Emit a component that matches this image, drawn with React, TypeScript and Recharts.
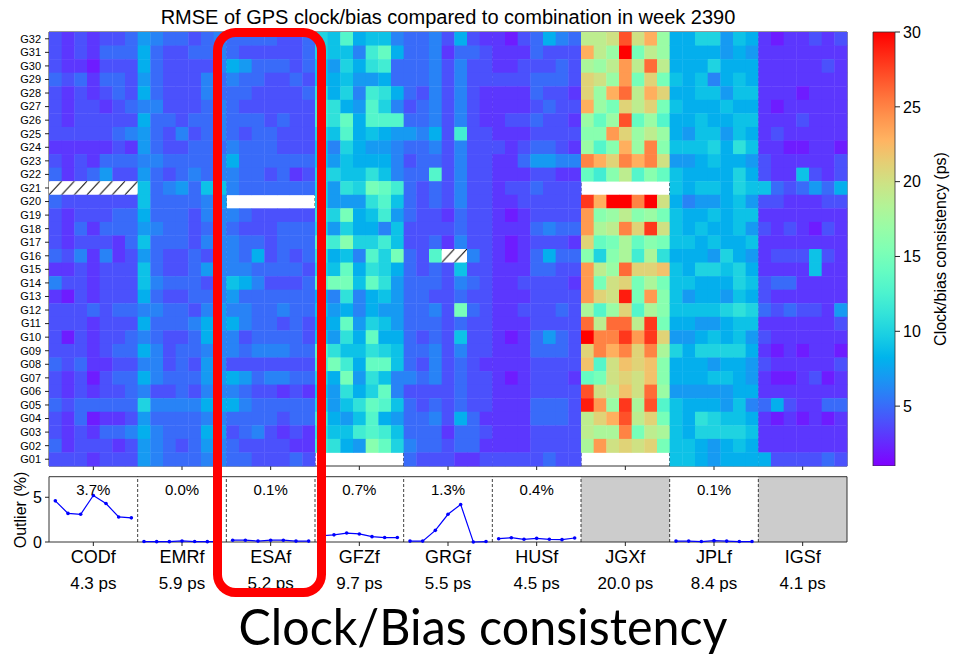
import React from 'react';
import {
    ScatterChart,
    Scatter,
    BarChart,
    Bar,
    XAxis,
    YAxis,
    ReferenceLine,
    ReferenceArea,
    ReferenceDot
} from 'recharts';

// tick labels
const SATELLITES = [
    'G01', 'G02', 'G03', 'G04', 'G05', 'G06', 'G07', 'G08', 'G09', 'G10', 'G11',
    'G12', 'G13', 'G14', 'G15', 'G16', 'G17', 'G18', 'G19', 'G20', 'G21', 'G22',
    'G23', 'G24', 'G25', 'G26', 'G27', 'G28', 'G29', 'G30', 'G31', 'G32'
];
const CENTERS = ['CODf', 'EMRf', 'ESAf', 'GFZf', 'GRGf', 'HUSf', 'JGXf', 'JPLf', 'IGSf'];
const MEAN_RMS = ['4.3 ps', '5.9 ps', '5.2 ps', '9.7 ps', '5.5 ps', '4.5 ps', '20.0 ps', '8.4 ps', '4.1 ps'];
const OUTLIER_LABELS = ['3.7%', '0.0%', '0.1%', '0.7%', '1.3%', '0.4%', '', '0.1%', ''];
const COLORBAR_TICKS = [5, 10, 15, 20, 25, 30];
const COLORBAR_RANGE = [1, 30];

// daily RMS (ps), rows G32 (top) .. G01 (bottom), 7 days per row.
// '1'-'9' = 1..9 ps, 'a'..'u' = 10..30 ps, '-' = no data, '/' = excluded
const CODF_RMS = [
    '4343445', '4343555', '4332444', '5453554', '4343454', '4344345', '4344444', '4444456',
    '3333343', '4343555', '5345744', '///////', '5444444', '4344455', '4353555', '4344435',
    '5463634', '3343444', '6443444', '3243444', '4445455', '4443444', '4243445', '4443455',
    '5453344', '4342455', '4343445', '5455555', '4352334', '4343556', '5344434', '4443444'
];
const EMRF_RMS = [
    '7655456', '8544556', '8544446', '7544465', '8544465', '6644456', '8554556', '7546456',
    '7544555', '6655556', '7545656', '9567599', '9555567', '8555466', '7655456', '9555466',
    '7544546', '9544576', '9655546', '8544556', '6655467', '8555687', '6544586', '8645566',
    '6645476', '8655577', '6445466', 'a666688', '7555566', '8655587', '7654576', '7655566'
];
const ESAF_RMS = [
    '5555445', '5444445', '8755545', '6554454', '5544445', '5444444', '5554544', '5455444',
    '6555444', '8555555', '6554534', '6555555', '-------', '6544444', '5444555', '6554555',
    '6584545', '6655554', '9864445', '7555555', '6655655', '8655454', '6455554', '6566655',
    '4444444', '8756655', '6544343', '8655555', '5555455', '4564343', '5444433', '5544454'
];
const GFZF_RMS = [
    'a9d8996', 'a996ce8', '97a8bc5', '9897785', 'b8a6cb8', 'cb87da6', 'cbe8ddd', 'a9d8987',
    '96a8776', '9798886', 'aa99b96', 'a7bafec', 'a777bd9', 'baf89c7', 'a7a8869', 'dcgaac9',
    'b896daf', 'a9e8ba8', 'dff9eb7', '86b6897', '9786877', '88e7a97', '97b8e88', 'db99ba9',
    'cfc8ee9', 'a8f7b96', '97b8ae6', 'a79bed9', 'c879d87', 'b99cdc9', 'cb87gea', '-------'
];
const GRGF_RMS = [
    '5564843', '5563554', '5564644', '5564644', '5464643', '4564643', '5564643', '7684c44',
    '5564644', '4554644', '55d4644', '5454644', '5454644', '5443544', '4444544', '4453644',
    '54d//64', '5454944', '5554654', '5544544', '5564f54', '5554544', '5454944', '5564644',
    '5464543', '6564544', '4444544', '5454544', '5564853', '5553554', '6554553', '5444334'
];
const HUSF_RMS = [
    '3245865', '3335444', '3344454', '4445554', '3335443', '3334544', '3445443', '3334444',
    '4345543', '3357766', '3334433', '3445444', '3344444', '3234444', '3335655', '3234443',
    '3235855', '3335544', '3344443', '3334444', '3344454', '3334444', '3235754', '3335554',
    '3334444', '3234443', '3334444', '3335554', '3335554', '3334444', '3334444', '4444544'
];
const JGXF_RMS = [
    'jjkrknh', 'njhufjh', 'ihjojqj', 'lkhoflf', 'lhnqjnl', 'nhfljlf', 'hehrehd', 'ggolhjh',
    'hdgnhpg', 'pnlpnpk', 'ecgjdge', '-------', 'snuupuk', 'oghjghf', 'oijplsk', 'lefiegf',
    'gagicib', 'ojhqllm', 'ofklfif', 'olktfog', 'idhldig', 'qjqqjsf', 'uppsosl', 'lpnplpi',
    'mdkmlmg', 'efklkmg', 'rkjmkqh', 'tohsird', 'jlnrjlf', 'jiipfji', 'ioklklf', '-------'
];
const JPLF_RMS = [
    '88aa798', '8888787', '888a888', '9896898', '8899799', '9888988', '8898899', '8799798',
    '999a8b9', '7789887', '98888a8', '98998a9', '8677897', '9889899', '9898897', '9989889',
    '8887a87', '98aa9a8', '99888a9', '9788798', '9999aba', '8877899', '7789897', 'a8aaaa8',
    '8887887', '8889987', '7777788', '9888796', '98ba998', '98aaaa9', '9987898', '9987888'
];
const IGSF_RMS = [
    '3233434', '3333333', '3333343', '3333333', '3332333', '3233333', '3334333', '3433333',
    '3322332', '4333334', '4339434', '9545758', '4433344', '3333333', '4343243', '3333333',
    '3444943', '3333933', '4553333', '4333333', '5454437', '3333334', '4333333', '3232332',
    '4333334', '3223423', '3333333', '5843355', '3232323', '3333333', '3333333', '8444454'
];

// daily outlier percentage per center (null = not evaluated)
const CODF_OUT = [4.6, 3.2, 3.1, 5.2, 4.3, 2.8, 2.7];
const EMRF_OUT = [0.05, 0.04, 0.04, 0.12, 0.05, 0.04, 0.04];
const ESAF_OUT = [0.2, 0.2, 0.1, 0.2, 0.2, 0.1, 0.1];
const GFZF_OUT = [0.7, 0.8, 1.0, 0.9, 0.6, 0.5, 0.5];
const GRGF_OUT = [0.1, 0.1, 1.3, 3.1, 4.2, 0.0, 0.05];
const HUSF_OUT = [0.37, 0.48, 0.3, 0.41, 0.3, 0.26, 0.45];
const JGXF_OUT = null;
const JPLF_OUT = [0.1, 0.1, 0.05, 0.15, 0.1, 0.05, 0.05];
const IGSF_OUT = null;

const RMS_GROUPS = [CODF_RMS, EMRF_RMS, ESAF_RMS, GFZF_RMS, GRGF_RMS, HUSF_RMS, JGXF_RMS, JPLF_RMS, IGSF_RMS];
const OUT_GROUPS = [CODF_OUT, EMRF_OUT, ESAF_OUT, GFZF_OUT, GRGF_OUT, HUSF_OUT, JGXF_OUT, JPLF_OUT, IGSF_OUT];

const DAYS = 7;
const NCOL = CENTERS.length * DAYS;
const NROW = SATELLITES.length;

// plot geometry
const PLOT_LEFT = 49;
const PLOT_RIGHT = 847;
const HEAT_TOP = 32;
const HEAT_BOTTOM = 466;
const CELL_W = (PLOT_RIGHT - PLOT_LEFT) / NCOL;
const CELL_H = (HEAT_BOTTOM - HEAT_TOP) / NROW;
const FONT = "'Liberation Sans', Arial, sans-serif";

// matplotlib 'rainbow'
const rainbow = (v: number) => {
    const t = Math.min(1, Math.max(0, (v - COLORBAR_RANGE[0]) / (COLORBAR_RANGE[1] - COLORBAR_RANGE[0])));
    const clip = (c: number) => Math.round(255 * Math.min(1, Math.max(0, c)));
    const r = clip(Math.abs(2 * t - 0.5));
    const g = clip(Math.sin(Math.PI * t));
    const b = clip(Math.cos((Math.PI * t) / 2));
    return `rgb(${r},${g},${b})`;
};

const decode = (c: string) => (c >= '1' && c <= '9' ? Number(c) : c.charCodeAt(0) - 87);

const cells: Array<{ x: number; y: number; v: number; hatch: boolean }> = [];
RMS_GROUPS.forEach((rows, g) => {
    rows.forEach((row, r) => {
        row.split('').forEach((ch, d) => {
            if (ch === '-') return;
            cells.push({
                x: g * DAYS + d + 0.5,
                y: NROW - r - 0.5,
                v: ch === '/' ? 0 : decode(ch),
                hatch: ch === '/'
            });
        });
    });
});

const outlierSeries = OUT_GROUPS.map((vals, g) =>
    vals ? vals.map((y, d) => ({ x: g * DAYS + d + 0.5, y })) : null
);

const GROUP_CENTERS = CENTERS.map((_, g) => g * DAYS + DAYS / 2);
const GROUP_EDGES = CENTERS.slice(1).map((_, g) => (g + 1) * DAYS);
const SAT_TICKS = SATELLITES.map((_, i) => i + 0.5);

const HeatCell = (p: any) => {
    const { cx, cy, payload } = p;
    return (
        <rect
            x={cx - CELL_W / 2}
            y={cy - CELL_H / 2}
            width={CELL_W + 0.4}
            height={CELL_H + 0.4}
            fill={payload.hatch ? 'url(#hatchFill)' : rainbow(payload.v)}
        />
    );
};

const Dot = (p: any) => <circle cx={p.cx} cy={p.cy} r={1.8} fill="#0000ff" />;

const CenterTick = (p: any) => {
    const i = Math.round((p.payload.value - DAYS / 2) / DAYS);
    return (
        <g>
            <text x={p.x} y={p.y + 15} textAnchor="middle" fontSize={18} fill="#000" fontFamily={FONT}>
                {CENTERS[i]}
            </text>
            <text x={p.x} y={p.y + 41} textAnchor="middle" fontSize={17} fill="#000" fontFamily={FONT}>
                {MEAN_RMS[i]}
            </text>
        </g>
    );
};

const gradientStops = Array.from({ length: 21 }, (_, i) => i / 20);

const App: React.FC = () => {
    return (
        <div style={{ position: 'absolute', left: 0, top: 0, width: 954, height: 656, background: '#fff', fontFamily: FONT, overflow: 'hidden' }}>
            <svg width={0} height={0} style={{ position: 'absolute' }}>
                <defs>
                    <pattern id="hatchFill" patternUnits="userSpaceOnUse" x={PLOT_LEFT} y={HEAT_TOP} width={CELL_W} height={CELL_H}>
                        <rect width={CELL_W} height={CELL_H} fill="#fff" />
                        <line x1={0} y1={CELL_H} x2={CELL_W} y2={0} stroke="#000" strokeWidth={1} />
                    </pattern>
                    <linearGradient id="cbarGrad" x1="0" y1="1" x2="0" y2="0">
                        {gradientStops.map((t) => (
                            <stop key={t} offset={t} stopColor={rainbow(COLORBAR_RANGE[0] + t * (COLORBAR_RANGE[1] - COLORBAR_RANGE[0]))} />
                        ))}
                    </linearGradient>
                </defs>
            </svg>

            {/* heatmap */}
            <div style={{ position: 'absolute', left: 0, top: 0 }}>
                <ScatterChart width={860} height={476} margin={{ top: HEAT_TOP, right: 13, bottom: 0, left: 0 }}>
                    <XAxis
                        type="number"
                        dataKey="x"
                        domain={[0, NCOL]}
                        ticks={GROUP_CENTERS}
                        tickFormatter={() => ''}
                        height={10}
                        tickSize={4}
                        axisLine={false}
                        stroke="#222"
                    />
                    <YAxis
                        type="number"
                        dataKey="y"
                        domain={[0, NROW]}
                        ticks={SAT_TICKS}
                        interval={0}
                        tickFormatter={(v: number) => SATELLITES[Math.floor(v)]}
                        width={PLOT_LEFT}
                        tickSize={4}
                        tickMargin={4}
                        tick={{ fontSize: 11, fill: '#000' }}
                        axisLine={false}
                        stroke="#222"
                    />
                    <Scatter data={cells} shape={HeatCell} isAnimationActive={false} />
                    {GROUP_EDGES.map((x) => (
                        <ReferenceLine key={x} x={x} stroke="#111" strokeWidth={0.8} strokeDasharray="3 2" />
                    ))}
                    <ReferenceArea x1={0} x2={NCOL} y1={0} y2={NROW} fill="none" stroke="#333" strokeWidth={1} />
                </ScatterChart>
            </div>

            {/* colorbar */}
            <div style={{ position: 'absolute', left: 860, top: 0 }}>
                <BarChart
                    width={94}
                    height={HEAT_BOTTOM}
                    data={[{ name: 'cb', span: COLORBAR_RANGE }]}
                    margin={{ top: HEAT_TOP, right: 0, bottom: 0, left: 13 }}
                    barCategoryGap={0}
                >
                    <XAxis dataKey="name" hide />
                    <YAxis
                        orientation="right"
                        type="number"
                        domain={COLORBAR_RANGE}
                        ticks={COLORBAR_TICKS}
                        width={59}
                        tickSize={5}
                        tickMargin={3}
                        tick={{ fontSize: 16, fill: '#000' }}
                        axisLine={false}
                        stroke="#222"
                    />
                    <Bar dataKey="span" fill="url(#cbarGrad)" stroke="#333" strokeWidth={0.8} isAnimationActive={false} />
                </BarChart>
            </div>

            {/* outlier panel */}
            <div style={{ position: 'absolute', left: 0, top: 460 }}>
                <ScatterChart width={860} height={142} margin={{ top: 16.7, right: 13, bottom: 0, left: 0 }}>
                    <XAxis
                        type="number"
                        dataKey="x"
                        domain={[0, NCOL]}
                        ticks={GROUP_CENTERS}
                        interval={0}
                        tick={(p: any) => <CenterTick {...p} />}
                        height={60}
                        tickSize={4}
                        axisLine={false}
                        stroke="#222"
                    />
                    <YAxis
                        type="number"
                        dataKey="y"
                        domain={[0, 7.3]}
                        ticks={[0, 5]}
                        width={PLOT_LEFT}
                        tickSize={4}
                        tickMargin={3}
                        tick={{ fontSize: 16, fill: '#000' }}
                        axisLine={false}
                        stroke="#222"
                    />
                    {outlierSeries.map((s, g) =>
                        s ? null : (
                            <ReferenceArea key={'grey' + g} x1={g * DAYS} x2={(g + 1) * DAYS} y1={0} y2={7.3} fill="#cccccc" fillOpacity={1} />
                        )
                    )}
                    {GROUP_EDGES.map((x) => (
                        <ReferenceLine key={x} x={x} stroke="#111" strokeWidth={0.8} strokeDasharray="3 2" />
                    ))}
                    {outlierSeries.map((s, g) =>
                        s ? (
                            <Scatter
                                key={'s' + g}
                                data={s}
                                line={{ stroke: '#0000ff', strokeWidth: 1.2 }}
                                shape={Dot}
                                isAnimationActive={false}
                            />
                        ) : null
                    )}
                    {OUTLIER_LABELS.map((lab, g) =>
                        lab ? (
                            <ReferenceDot
                                key={'l' + g}
                                x={GROUP_CENTERS[g]}
                                y={5.8}
                                r={0}
                                fill="none"
                                stroke="none"
                                label={{ value: lab, position: 'center', fontSize: 15, fill: '#000' }}
                            />
                        ) : null
                    )}
                    <ReferenceArea x1={0} x2={NCOL} y1={0} y2={7.3} fill="none" stroke="#333" strokeWidth={1} />
                </ScatterChart>
            </div>

            {/* titles, axis labels, annotation */}
            <svg width={954} height={656} style={{ position: 'absolute', left: 0, top: 0, pointerEvents: 'none' }}>
                <text x={448} y={24} textAnchor="middle" fontSize={20} fill="#000" fontFamily={FONT}>
                    RMSE of GPS clock/bias compared to combination in week 2390
                </text>
                <text x={22} y={510} transform="rotate(-90 22 510)" textAnchor="middle" dominantBaseline="middle" fontSize={16} fill="#000" fontFamily={FONT}>
                    Outlier (%)
                </text>
                <text x={942} y={249} transform="rotate(-90 942 249)" textAnchor="middle" dominantBaseline="middle" fontSize={16} fill="#000" fontFamily={FONT}>
                    Clock/bias consistency (ps)
                </text>
                <rect x={217.5} y={32.5} width={104} height={560} rx={18} ry={18} fill="none" stroke="#ff0000" strokeWidth={9} />
                <text
                    x={483}
                    y={645}
                    textAnchor="middle"
                    fontSize={50}
                    textLength={489}
                    lengthAdjust="spacingAndGlyphs"
                    fill="#000"
                    fontFamily="Lato, 'Open Sans', sans-serif"
                >
                    Clock/Bias consistency
                </text>
            </svg>
        </div>
    );
};

export default App;
